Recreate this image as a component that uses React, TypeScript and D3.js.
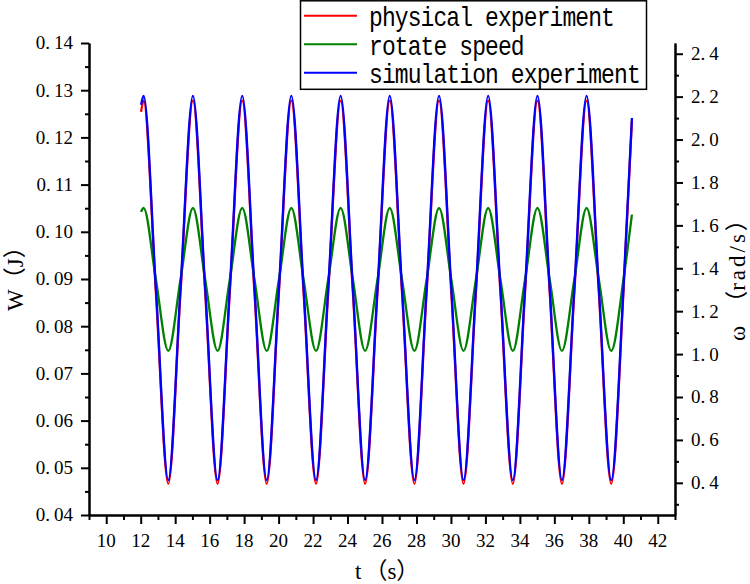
import React, { useEffect, useRef } from 'react';
import * as d3 from 'd3';

// time (s) at start, extrema, mid-level crossings and end
const timeS = [12.02, 12.17, 12.88, 13.60, 14.31, 15.03, 15.74, 16.46, 17.17, 17.89, 18.60, 19.31, 20.02, 20.74, 21.45, 22.17, 22.88, 23.60, 24.31, 25.02, 25.74, 26.45, 27.16, 27.88, 28.59, 29.31, 30.02, 30.73, 31.45, 32.16, 32.87, 33.59, 34.30, 35.02, 35.73, 36.44, 37.16, 37.87, 38.58, 39.30, 40.01, 40.50];

const physicalW = [0.1254, 0.1278, 0.0872, 0.0466, 0.0872, 0.1278, 0.0872, 0.0466, 0.0872, 0.1278, 0.0872, 0.0466, 0.0872, 0.1278, 0.0872, 0.0466, 0.0872, 0.1278, 0.0872, 0.0466, 0.0872, 0.1278, 0.0872, 0.0466, 0.0872, 0.1278, 0.0872, 0.0466, 0.0872, 0.1278, 0.0872, 0.0466, 0.0872, 0.1278, 0.0872, 0.0466, 0.0872, 0.1278, 0.0872, 0.0466, 0.0872, 0.1235];

const simulationW = [0.1269, 0.1288, 0.0881, 0.0474, 0.0881, 0.1288, 0.0881, 0.0474, 0.0881, 0.1288, 0.0881, 0.0474, 0.0881, 0.1288, 0.0881, 0.0474, 0.0881, 0.1288, 0.0881, 0.0474, 0.0881, 0.1288, 0.0881, 0.0474, 0.0881, 0.1288, 0.0881, 0.0474, 0.0881, 0.1288, 0.0881, 0.0474, 0.0881, 0.1288, 0.0881, 0.0474, 0.0881, 0.1288, 0.0881, 0.0474, 0.0881, 0.1241];

const rotateSpeed = [1.663, 1.681, 1.348, 1.015, 1.348, 1.681, 1.348, 1.015, 1.348, 1.681, 1.348, 1.015, 1.348, 1.681, 1.348, 1.015, 1.348, 1.681, 1.348, 1.015, 1.348, 1.681, 1.348, 1.015, 1.348, 1.681, 1.348, 1.015, 1.348, 1.681, 1.348, 1.015, 1.348, 1.681, 1.348, 1.015, 1.348, 1.681, 1.348, 1.015, 1.348, 1.650];

const xTicks = [10, 12, 14, 16, 18, 20, 22, 24, 26, 28, 30, 32, 34, 36, 38, 40, 42];
const xMinor = [9, 11, 13, 15, 17, 19, 21, 23, 25, 27, 29, 31, 33, 35, 37, 39, 41, 43];
const leftTicks = [0.04, 0.05, 0.06, 0.07, 0.08, 0.09, 0.10, 0.11, 0.12, 0.13, 0.14];
const leftMinor = [0.045, 0.055, 0.065, 0.075, 0.085, 0.095, 0.105, 0.115, 0.125, 0.135];
const rightTicks = [0.4, 0.6, 0.8, 1.0, 1.2, 1.4, 1.6, 1.8, 2.0, 2.2, 2.4];
const rightMinor = [0.3, 0.5, 0.7, 0.9, 1.1, 1.3, 1.5, 1.7, 1.9, 2.1, 2.3];

const legendLabels = ['physical experiment', 'rotate speed', 'simulation experiment'];
const seriesColors = ['#ff0000', '#008000', '#0000ff'];

const xTitle = ['t', '（', 's', '）'];
const leftTitle = ['W', '（', 'J', '）'];
const rightTitle = ['ω', '（', 'rad/s', '）'];

export default function App() {
  const ref = useRef<SVGSVGElement>(null);

  useEffect(() => {
    const svg = d3.select(ref.current);
    svg.selectAll('*').remove();

    const W = 750, H = 584;
    const left = 89, right = 675, top = 43, bottom = 515;

    const x = d3.scaleLinear().domain([9, 43]).range([left, right]);
    const yL = d3.scaleLinear().domain([0.04, 0.14]).range([bottom, top]);
    const yR = d3.scaleLinear().domain([0.25, 2.45]).range([bottom, top]);

    svg.append('rect').attr('width', W).attr('height', H).attr('fill', '#fff');

    const serifFont = '"Liberation Serif", "Times New Roman", serif';
    const titleFont = '"Liberation Serif", "Noto Sans CJK SC", serif';

    // curves
    const lineL = d3.line<number>()
      .x((_, i) => x(timeS[i]))
      .y((d) => yL(d))
      .curve(d3.curveMonotoneX);
    const lineR = d3.line<number>()
      .x((_, i) => x(timeS[i]))
      .y((d) => yR(d))
      .curve(d3.curveMonotoneX);

    const curves = svg.append('g').attr('fill', 'none').attr('stroke-width', 2.3).attr('stroke-linejoin', 'round');
    curves.append('path').attr('d', lineL(physicalW)).attr('stroke', seriesColors[0]);
    curves.append('path').attr('d', lineR(rotateSpeed)).attr('stroke', seriesColors[1]);
    curves.append('path').attr('d', lineL(simulationW)).attr('stroke', seriesColors[2]);

    const styleAxis = (g: any) => {
      g.selectAll('path').attr('stroke', '#000').attr('stroke-width', 2);
      g.selectAll('line').attr('stroke', '#000').attr('stroke-width', 2);
      g.selectAll('text').remove();
    };

    // left axis
    const gl = svg.append('g').attr('transform', `translate(${left},0)`);
    gl.call(d3.axisLeft(yL).tickValues(leftMinor).tickSize(4).tickSizeOuter(0).tickFormat(() => '')).call(styleAxis);
    gl.append('g').call(d3.axisLeft(yL).tickValues(leftTicks).tickSize(8).tickSizeOuter(0).tickFormat(() => '')).call(styleAxis);

    // bottom axis
    const gb = svg.append('g').attr('transform', `translate(0,${bottom})`);
    gb.call(d3.axisBottom(x).tickValues(xMinor).tickSize(5).tickSizeOuter(0).tickFormat(() => '')).call(styleAxis);
    gb.append('g').call(d3.axisBottom(x).tickValues(xTicks).tickSize(9).tickSizeOuter(0).tickFormat(() => '')).call(styleAxis);

    // right axis
    const gr = svg.append('g').attr('transform', `translate(${right},0)`);
    gr.call(d3.axisRight(yR).tickValues(rightMinor).tickSize(4).tickSizeOuter(0).tickFormat(() => '')).call(styleAxis);
    gr.append('g').call(d3.axisRight(yR).tickValues(rightTicks).tickSize(8).tickSizeOuter(0).tickFormat(() => '')).call(styleAxis);

    // tick labels
    const fs = 19;
    const fmtL = d3.format('.2f');
    const fmtR = d3.format('.1f');
    leftTicks.forEach((v) => {
      const s = fmtL(v).split('.');
      const t = svg.append('text')
        .attr('x', 73).attr('y', yL(v)).attr('dy', '0.34em')
        .attr('text-anchor', 'end').attr('font-family', serifFont).attr('font-size', fs).attr('fill', '#000');
      t.append('tspan').text(s[0] + '.');
      t.append('tspan').attr('dx', 4).text(s[1]);
    });
    rightTicks.forEach((v) => {
      const s = fmtR(v).split('.');
      const t = svg.append('text')
        .attr('x', 691).attr('y', yR(v)).attr('dy', '0.34em')
        .attr('text-anchor', 'start').attr('font-family', serifFont).attr('font-size', fs).attr('fill', '#000');
      t.append('tspan').text(s[0] + '.');
      t.append('tspan').attr('dx', 4).text(s[1]);
    });
    xTicks.forEach((v) => {
      svg.append('text')
        .attr('x', x(v)).attr('y', 547)
        .attr('text-anchor', 'middle').attr('font-family', serifFont).attr('font-size', fs).attr('fill', '#000')
        .text(String(v));
    });

    // axis titles
    const addTitle = (parts: string[], transform: string, gap: number, spacing: number) => {
      const t = svg.append('text')
        .attr('transform', transform)
        .attr('text-anchor', 'start').attr('font-family', titleFont).attr('font-size', 23).attr('fill', '#000');
      t.append('tspan').text(parts[0]);
      t.append('tspan').attr('dx', gap).text(parts[1]);
      t.append('tspan').attr('letter-spacing', spacing).text(parts[2]);
      t.append('tspan').attr('letter-spacing', 0).text(parts[3]);
    };
    addTitle(xTitle, 'translate(355,579)', 3, 0);
    addTitle(leftTitle, 'translate(23,311) rotate(-90)', -1, 0);
    addTitle(rightTitle, 'translate(745,341) rotate(-90)', 12, 3);

    // legend
    const lg = svg.append('g');
    lg.append('rect').attr('x', 300.5).attr('y', 0.8).attr('width', 346).attr('height', 88.5)
      .attr('fill', '#fff').attr('stroke', '#000').attr('stroke-width', 1.5);
    const rowY = [15.7, 44.3, 72.7];
    legendLabels.forEach((lab, i) => {
      lg.append('line').attr('x1', 304).attr('x2', 357).attr('y1', rowY[i]).attr('y2', rowY[i])
        .attr('stroke', seriesColors[i]).attr('stroke-width', 2);
      lg.append('text')
        .attr('transform', `translate(369,${rowY[i] + 10.3}) scale(1,1.2)`)
        .attr('font-family', '"Liberation Mono", "Courier New", monospace').attr('font-size', 23)
        .attr('letter-spacing', -0.9).attr('fill', '#000')
        .text(lab);
    });
  }, []);

  return (
    <svg
      ref={ref}
      width={750}
      height={584}
      style={{ position: 'absolute', left: 0, top: 0, background: '#fff' }}
    />
  );
}
